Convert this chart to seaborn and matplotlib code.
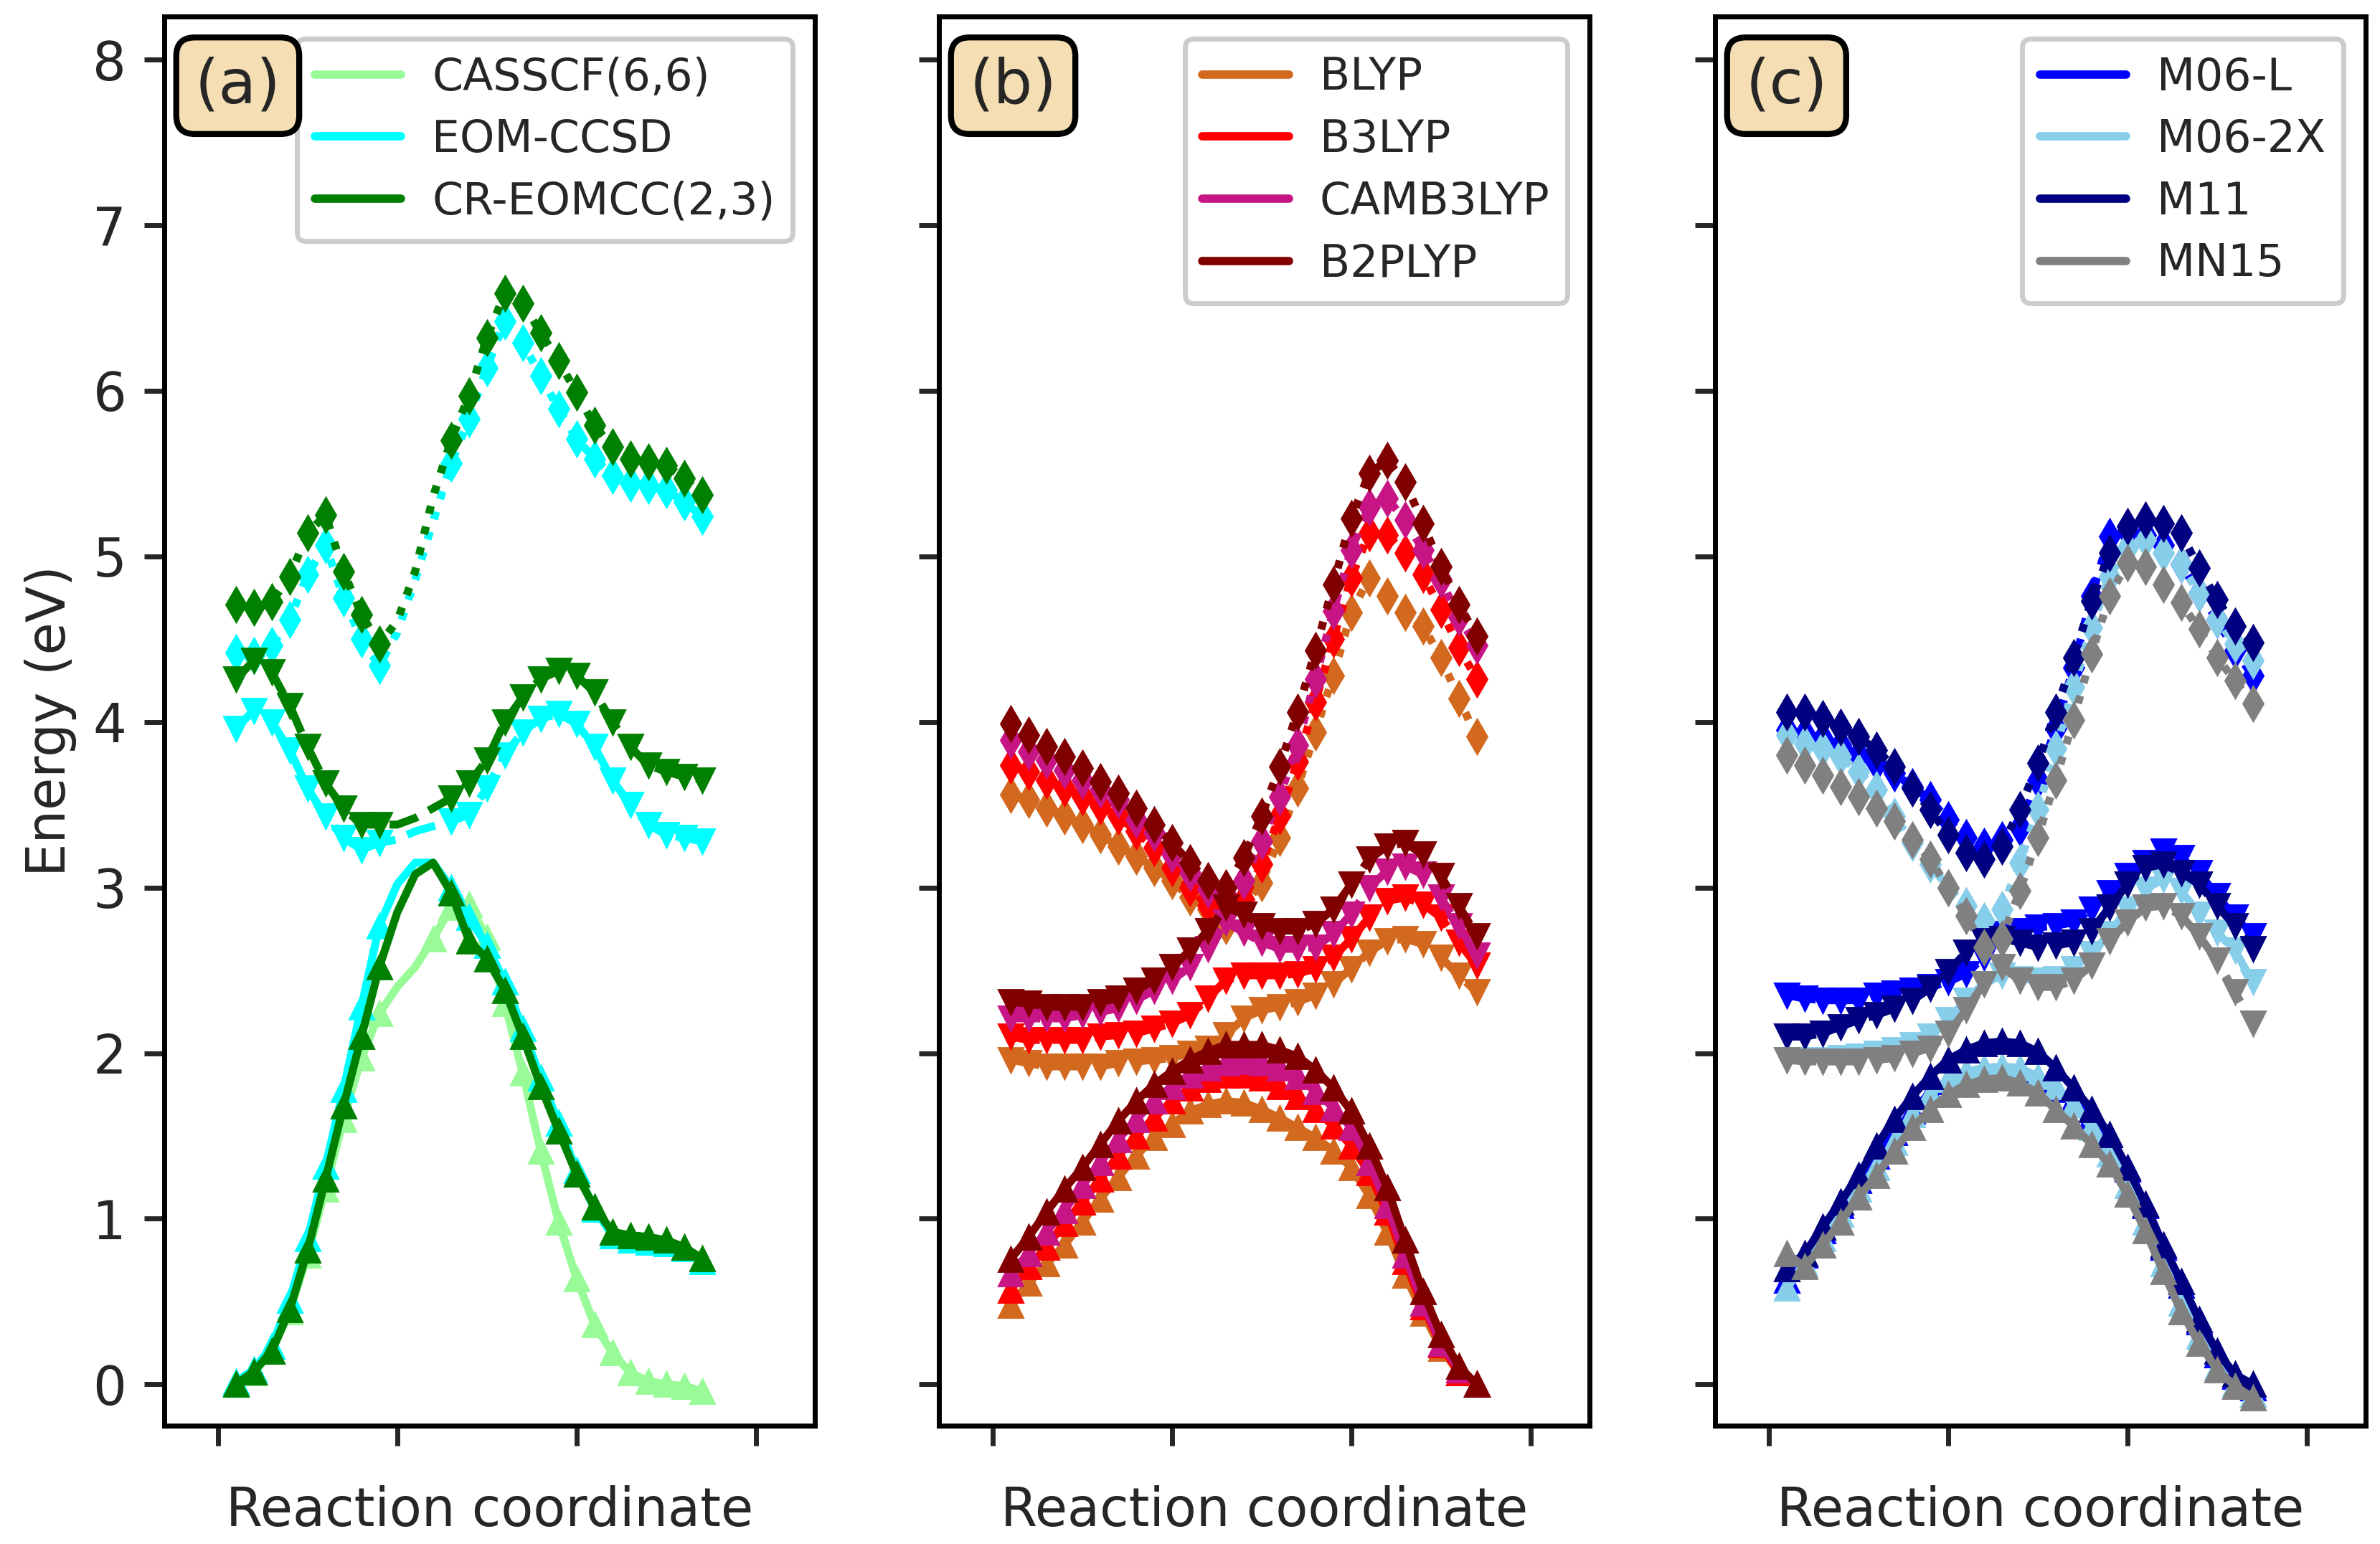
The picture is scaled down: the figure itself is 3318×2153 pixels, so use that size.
import matplotlib
matplotlib.use("Agg")
import matplotlib.pyplot as plt
from matplotlib.lines import Line2D
import pandas as pd
import seaborn as sns

# ---------------- data ----------------
X = list(range(1, 28))

# Panel (a)
CASSCF_S1 = [0.0, 0.07, 0.2, 0.44, 0.78, 1.18, 1.60, 1.97, 2.24, 2.40, 2.52, 2.69, 2.88, 2.90, 2.70, 2.30, 1.88, 1.41, 0.98, 0.64, 0.36, 0.19, 0.07, 0.02, 0.0, -0.01, -0.04]
EOMCCSD_S1 = [0.015, 0.09, 0.23, 0.51, 0.88, 1.32, 1.78, 2.28, 2.77, 3.02, 3.15, 3.15, 3.0, 2.82, 2.65, 2.43, 2.15, 1.85, 1.58, 1.29, 1.06, 0.90, 0.87, 0.86, 0.85, 0.82, 0.74]
CREOMCC_S1 = [0.0, 0.077, 0.20, 0.45, 0.81, 1.24, 1.68, 2.10, 2.52, 2.85, 3.08, 3.15, 2.97, 2.68, 2.57, 2.38, 2.10, 1.80, 1.53, 1.27, 1.07, 0.92, 0.90, 0.89, 0.87, 0.83, 0.76]
EOMCCSD_S2 = [3.96, 4.07, 4.0, 3.83, 3.60, 3.43, 3.30, 3.23, 3.27, 3.29, 3.34, 3.37, 3.40, 3.44, 3.60, 3.80, 3.94, 4.02, 4.05, 3.99, 3.85, 3.65, 3.50, 3.38, 3.32, 3.30, 3.28]
CREOMCC_S2 = [4.26, 4.37, 4.30, 4.10, 3.85, 3.63, 3.48, 3.38, 3.38, 3.38, 3.42, 3.48, 3.54, 3.63, 3.77, 4.00, 4.15, 4.26, 4.31, 4.28, 4.18, 4.00, 3.85, 3.74, 3.70, 3.67, 3.65]
EOMCCSD_S3 = [4.42, 4.40, 4.46, 4.62, 4.89, 5.07, 4.75, 4.50, 4.34, 4.54, 4.86, 5.21, 5.56, 5.83, 6.14, 6.42, 6.29, 6.09, 5.89, 5.71, 5.59, 5.49, 5.44, 5.43, 5.40, 5.33, 5.24]
CREOMCC_S3 = [4.71, 4.69, 4.725, 4.88, 5.14, 5.25, 4.91, 4.65, 4.47, 4.61, 4.91, 5.36, 5.70, 5.97, 6.32, 6.59, 6.53, 6.35, 6.18, 5.99, 5.79, 5.66, 5.59, 5.57, 5.55, 5.47, 5.37]
GAP_CAS = [10, 11]          # x positions drawn without markers
GAP_CC = [10, 11, 12]

# Panel (b)
BLYP_S1 = [0.48, 0.61, 0.73, 0.84, 0.98, 1.12, 1.25, 1.38, 1.49, 1.57, 1.65, 1.69, 1.71, 1.70, 1.66, 1.61, 1.55, 1.49, 1.41, 1.31, 1.14, 0.92, 0.66, 0.43, 0.22, 0.07, 0.0]
B3LYP_S1 = [0.57, 0.71, 0.83, 0.97, 1.10, 1.24, 1.38, 1.50, 1.61, 1.71, 1.79, 1.84, 1.87, 1.87, 1.85, 1.80, 1.74, 1.66, 1.56, 1.44, 1.28, 1.04, 0.74, 0.47, 0.24, 0.07, 0.0]
CAMB3LYP_S1 = [0.67, 0.79, 0.92, 1.05, 1.20, 1.34, 1.48, 1.60, 1.71, 1.80, 1.87, 1.91, 1.94, 1.95, 1.94, 1.91, 1.86, 1.77, 1.67, 1.55, 1.34, 1.08, 0.78, 0.49, 0.25, 0.09, 0.0]
B2PLYP_S1 = [0.755, 0.89, 1.04, 1.18, 1.31, 1.45, 1.59, 1.71, 1.81, 1.89, 1.96, 2.01, 2.05, 2.05, 2.05, 2.02, 1.98, 1.90, 1.79, 1.65, 1.44, 1.19, 0.87, 0.56, 0.30, 0.11, 0.0]
BLYP_S2 = [1.96, 1.94, 1.92, 1.92, 1.92, 1.92, 1.94, 1.95, 1.96, 1.97, 2.00, 2.03, 2.11, 2.21, 2.26, 2.28, 2.31, 2.35, 2.42, 2.51, 2.61, 2.68, 2.69, 2.66, 2.58, 2.47, 2.37]
B3LYP_S2 = [2.10, 2.08, 2.08, 2.08, 2.08, 2.10, 2.11, 2.12, 2.15, 2.18, 2.23, 2.33, 2.44, 2.47, 2.47, 2.47, 2.48, 2.51, 2.58, 2.69, 2.82, 2.92, 2.94, 2.90, 2.82, 2.67, 2.53]
CAMB3LYP_S2 = [2.21, 2.21, 2.21, 2.21, 2.23, 2.25, 2.27, 2.32, 2.38, 2.44, 2.52, 2.63, 2.79, 2.73, 2.67, 2.63, 2.63, 2.64, 2.72, 2.84, 3.00, 3.10, 3.13, 3.08, 2.94, 2.77, 2.59]
B2PLYP_S2 = [2.31, 2.30, 2.28, 2.28, 2.28, 2.31, 2.33, 2.38, 2.44, 2.52, 2.62, 2.74, 2.88, 2.84, 2.77, 2.74, 2.74, 2.78, 2.87, 3.02, 3.17, 3.25, 3.27, 3.20, 3.07, 2.89, 2.71]
BLYP_S3 = [3.56, 3.53, 3.48, 3.43, 3.38, 3.32, 3.25, 3.19, 3.12, 3.04, 2.94, 2.87, 2.77, 2.89, 3.03, 3.30, 3.60, 3.94, 4.28, 4.66, 4.87, 4.76, 4.66, 4.58, 4.39, 4.14, 3.91]
B3LYP_S3 = [3.74, 3.70, 3.65, 3.60, 3.55, 3.49, 3.43, 3.34, 3.24, 3.12, 3.00, 2.89, 2.85, 2.93, 3.14, 3.43, 3.76, 4.12, 4.50, 4.87, 5.14, 5.13, 5.02, 4.89, 4.68, 4.45, 4.26]
CAMB3LYP_S3 = [3.89, 3.82, 3.77, 3.71, 3.65, 3.59, 3.53, 3.41, 3.33, 3.20, 3.09, 2.99, 2.93, 3.04, 3.28, 3.55, 3.86, 4.26, 4.67, 5.04, 5.30, 5.35, 5.22, 5.04, 4.86, 4.63, 4.46]
B2PLYP_S3 = [3.99, 3.92, 3.85, 3.79, 3.72, 3.64, 3.57, 3.48, 3.38, 3.27, 3.15, 3.04, 3.00, 3.18, 3.43, 3.73, 4.06, 4.43, 4.83, 5.23, 5.50, 5.58, 5.45, 5.20, 4.94, 4.71, 4.52]

# Panel (c)
M06L_S1 = [0.63, 0.78, 0.93, 1.08, 1.23, 1.38, 1.52, 1.65, 1.76, 1.83, 1.87, 1.88, 1.88, 1.86, 1.83, 1.78, 1.72, 1.62, 1.48, 1.30, 1.08, 0.83, 0.60, 0.38, 0.18, 0.05, -0.02]
M062X_S1 = [0.58, 0.73, 0.88, 1.03, 1.18, 1.31, 1.46, 1.63, 1.75, 1.84, 1.89, 1.91, 1.92, 1.91, 1.86, 1.80, 1.69, 1.55, 1.39, 1.20, 0.98, 0.73, 0.49, 0.29, 0.10, 0.0, -0.06]
M11_S1 = [0.70, 0.79, 0.95, 1.10, 1.26, 1.44, 1.60, 1.74, 1.86, 1.96, 2.02, 2.06, 2.07, 2.06, 2.01, 1.91, 1.79, 1.66, 1.51, 1.31, 1.09, 0.84, 0.62, 0.39, 0.20, 0.06, 0.0]
MN15_S1 = [0.79, 0.71, 0.84, 0.98, 1.13, 1.26, 1.41, 1.55, 1.66, 1.75, 1.81, 1.84, 1.85, 1.82, 1.76, 1.66, 1.56, 1.45, 1.33, 1.15, 0.93, 0.68, 0.44, 0.25, 0.09, -0.01, -0.08]
M06L_S2 = [2.35, 2.33, 2.32, 2.32, 2.32, 2.35, 2.36, 2.38, 2.40, 2.43, 2.48, 2.58, 2.72, 2.74, 2.76, 2.77, 2.79, 2.87, 2.97, 3.07, 3.15, 3.22, 3.18, 3.09, 2.95, 2.82, 2.71]
M062X_S2 = [1.96, 1.96, 1.96, 1.97, 1.98, 2.00, 2.02, 2.05, 2.10, 2.20, 2.32, 2.42, 2.47, 2.45, 2.44, 2.45, 2.51, 2.60, 2.72, 2.87, 2.99, 3.05, 2.98, 2.84, 2.73, 2.62, 2.43]
M11_S2 = [2.10, 2.10, 2.12, 2.16, 2.20, 2.23, 2.27, 2.32, 2.39, 2.49, 2.61, 2.68, 2.69, 2.67, 2.64, 2.65, 2.67, 2.74, 2.88, 3.02, 3.12, 3.14, 3.09, 3.02, 2.89, 2.77, 2.63]
MN15_S2 = [1.96, 1.95, 1.95, 1.95, 1.95, 1.96, 1.97, 2.00, 2.03, 2.12, 2.26, 2.42, 2.52, 2.44, 2.40, 2.40, 2.44, 2.53, 2.68, 2.79, 2.88, 2.89, 2.83, 2.71, 2.56, 2.37, 2.18]
M06L_S3 = [3.95, 3.93, 3.90, 3.86, 3.80, 3.75, 3.69, 3.61, 3.53, 3.41, 3.30, 3.25, 3.29, 3.36, 3.65, 3.96, 4.33, 4.76, 5.12, 5.15, 5.13, 5.07, 4.95, 4.78, 4.62, 4.43, 4.28]
M062X_S3 = [3.92, 3.87, 3.84, 3.79, 3.70, 3.59, 3.43, 3.27, 3.14, 3.00, 2.89, 2.80, 2.87, 3.15, 3.47, 3.84, 4.21, 4.57, 4.88, 5.05, 5.10, 5.02, 4.95, 4.78, 4.62, 4.47, 4.37]
M11_S3 = [4.06, 4.06, 4.02, 3.97, 3.91, 3.83, 3.73, 3.60, 3.47, 3.32, 3.21, 3.17, 3.25, 3.47, 3.75, 4.06, 4.39, 4.73, 5.02, 5.18, 5.22, 5.20, 5.14, 4.93, 4.74, 4.58, 4.48]
MN15_S3 = [3.80, 3.74, 3.68, 3.61, 3.55, 3.48, 3.40, 3.29, 3.17, 3.00, 2.83, 2.64, 2.69, 2.98, 3.30, 3.65, 4.01, 4.41, 4.76, 4.96, 4.94, 4.83, 4.72, 4.56, 4.39, 4.25, 4.11]

PANELS = [
    ("(a)", [
        ("CASSCF(6,6)", "#98FB98", [CASSCF_S1], GAP_CAS),
        ("EOM-CCSD", "#00FFFF", [EOMCCSD_S1, EOMCCSD_S2, EOMCCSD_S3], GAP_CC),
        ("CR-EOMCC(2,3)", "#008000", [CREOMCC_S1, CREOMCC_S2, CREOMCC_S3], GAP_CC),
    ]),
    ("(b)", [
        ("BLYP", "#D2691E", [BLYP_S1, BLYP_S2, BLYP_S3], []),
        ("B3LYP", "#FF0000", [B3LYP_S1, B3LYP_S2, B3LYP_S3], []),
        ("CAMB3LYP", "#C71585", [CAMB3LYP_S1, CAMB3LYP_S2, CAMB3LYP_S3], []),
        ("B2PLYP", "#800000", [B2PLYP_S1, B2PLYP_S2, B2PLYP_S3], []),
    ]),
    ("(c)", [
        ("M06-L", "#0000FF", [M06L_S1, M06L_S2, M06L_S3], []),
        ("M06-2X", "#87CEEB", [M062X_S1, M062X_S2, M062X_S3], []),
        ("M11", "#000080", [M11_S1, M11_S2, M11_S3], []),
        ("MN15", "#808080", [MN15_S1, MN15_S2, MN15_S3], []),
    ]),
]
STATE_STYLE = [("-", "^"), ("--", "v"), (":", "d")]

# ---------------- style ----------------
sns.set_style("ticks")
plt.rcParams["font.family"] = ["DejaVu Sans"]
plt.rcParams["axes.linewidth"] = 2.5

DPI = 200
fig = plt.figure(figsize=(3318 / DPI, 2153 / DPI), dpi=DPI)
lefts = [0.0690, 0.3945, 0.7206]
W, B, H = 0.2734, 0.0766, 0.9127

for i, (tag, methods) in enumerate(PANELS):
    ax = fig.add_axes([lefts[i], B, W, H])
    handles = []
    for name, color, states, gap in methods:
        for (ls, mk), vals in zip(STATE_STYLE, states):
            df = pd.DataFrame({"x": X, "E": vals})
            mask = [xx not in gap for xx in X]
            sns.lineplot(data=df, x="x", y="E", ax=ax, color=color, linestyle=ls,
                         linewidth=4, marker=mk, markersize=12, markevery=mask,
                         markeredgecolor=color, markeredgewidth=1.0,
                         errorbar=None, sort=False)
        handles.append(Line2D([0], [0], color=color, lw=4.2, label=name))

    ax.set_xlim(-3.0, 33.3)
    ax.set_ylim(-0.25, 8.26)
    ax.set_xticks([0, 10, 20, 30])
    ax.set_xticklabels([])
    ax.set_yticks(range(0, 9))
    if i == 0:
        ax.set_yticklabels([str(v) for v in range(0, 9)])
        ax.set_ylabel("Energy (eV)", fontsize=26.5, labelpad=8)
    else:
        ax.set_yticklabels([])
        ax.set_ylabel("")
    ax.set_xlabel("Reaction coordinate", fontsize=26.5, labelpad=11)
    ax.tick_params(axis="both", direction="out", length=10, width=2.5,
                   labelsize=26.5, pad=9, top=False, right=False)
    for sp in ax.spines.values():
        sp.set_linewidth(2.5)
        sp.set_color("black")

    leg = ax.legend(handles=handles, loc="upper right", fontsize=22.2,
                    handlelength=1.95, handletextpad=0.7, labelspacing=0.43,
                    borderpad=0.4, fancybox=True, framealpha=1.0, edgecolor="0.8")
    leg.get_frame().set_linewidth(2.5)

    ax.text(0.047, 0.972, tag, transform=ax.transAxes, ha="left", va="top",
            fontsize=31, zorder=10,
            bbox=dict(boxstyle="round,pad=0.3", facecolor="wheat",
                      edgecolor="black", linewidth=3))

fig.savefig("out.png", dpi=DPI)
